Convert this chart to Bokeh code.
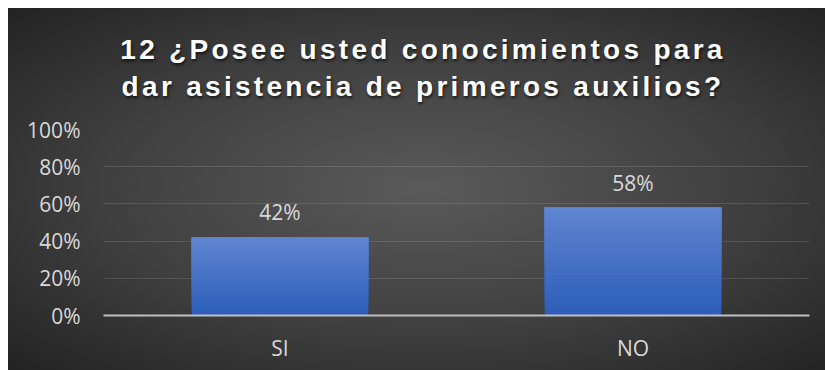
from bokeh.plotting import figure
from bokeh.layouts import column
from bokeh.models import ColumnDataSource, Div, NumeralTickFormatter, FixedTicker
from bokeh.embed import file_html
from bokeh.resources import INLINE
from bokeh.core.properties import value

categories = ["SI", "NO"]
values = [0.42, 0.58]
labels = ["42%", "58%"]
y_ticks = [0, 0.2, 0.4, 0.6, 0.8, 1.0]
title_lines = ["12 ¿Posee usted conocimientos para", "dar asistencia de primeros auxilios?"]

W = 817
TITLE_H = 100

title = Div(
    text='<div style="box-sizing:border-box;width:817px;padding-top:23px;padding-left:13px;text-align:center;'
         'font-family:\'Liberation Sans\',Arial,sans-serif;font-weight:bold;font-size:28px;'
         'line-height:37px;letter-spacing:3.3px;color:#ffffff;'
         'text-shadow:1px 2px 3px rgba(0,0,0,0.65);">'
         + title_lines[0] + "<br>" + title_lines[1] + "</div>",
    width=W, height=TITLE_H, margin=0)

p = figure(x_range=categories, y_range=(0, 1), width=W, height=262,
           output_backend="svg", toolbar_location=None,
           min_border_left=95, min_border_right=16, min_border_top=21, min_border_bottom=55)

p.background_fill_color = None
p.border_fill_color = None
p.outline_line_color = None

# gradient bars: layered from the bar's value, dark at bottom to light at top
n = 16
c0 = (0x2d, 0x5e, 0xb9)
c1 = (0x5f, 0x84, 0xd0)
xs, bottoms, tops, cols = [], [], [], []
for cat, v in zip(categories, values):
    for i in range(n):
        t = i / (n - 1)
        col = "#%02x%02x%02x" % tuple(int(round(a + (b - a) * t)) for a, b in zip(c0, c1))
        xs.append(cat)
        bottoms.append(v * i / n)
        tops.append(v)
        cols.append(col)
bar_src = ColumnDataSource(dict(x=xs, bottom=bottoms, top=tops, color=cols))
p.vbar(x="x", bottom="bottom", top="top", width=0.5, source=bar_src,
       fill_color="color", line_color=None)

lab_src = ColumnDataSource(dict(x=categories, y=values, text=labels))
p.text(x="x", y="y", text="text", source=lab_src, y_offset=-11,
       text_align="center", text_baseline="bottom",
       text_font=value("Open Sans"), text_font_size="21px", text_color="#d9d9d9")

p.yaxis.ticker = FixedTicker(ticks=y_ticks)
p.yaxis.formatter = NumeralTickFormatter(format="0%")
p.yaxis.axis_line_color = None
p.yaxis.major_tick_line_color = None
p.yaxis.minor_tick_line_color = None
p.yaxis.major_tick_out = 0
p.yaxis.minor_tick_out = 0
p.yaxis.major_label_standoff = 23
p.yaxis.major_label_text_font = "Open Sans"
p.yaxis.major_label_text_font_size = "21px"
p.yaxis.major_label_text_color = "#d9d9d9"

p.xaxis.axis_line_color = "#bfbfbf"
p.xaxis.axis_line_width = 2
p.xaxis.major_tick_line_color = None
p.xaxis.minor_tick_line_color = None
p.xaxis.major_tick_out = 0
p.xaxis.minor_tick_out = 0
p.xaxis.major_label_standoff = 18
p.xaxis.major_label_text_font = "Open Sans"
p.xaxis.major_label_text_font_size = "21px"
p.xaxis.major_label_text_color = "#d9d9d9"

p.xgrid.grid_line_color = None
p.ygrid.grid_line_color = "#ffffff"
p.ygrid.grid_line_alpha = 0.12
p.ygrid.ticker = FixedTicker(ticks=y_ticks)

layout = column(title, p, spacing=0, margin=(8, 0, 0, 8),
                styles={"background-image": "radial-gradient(ellipse farthest-corner at 51% 50%, "
                                            "#5a5a5a 0%, #3f3f3f 55%, #232323 100%)"})

open("out.html", "w").write(file_html(layout, INLINE))
